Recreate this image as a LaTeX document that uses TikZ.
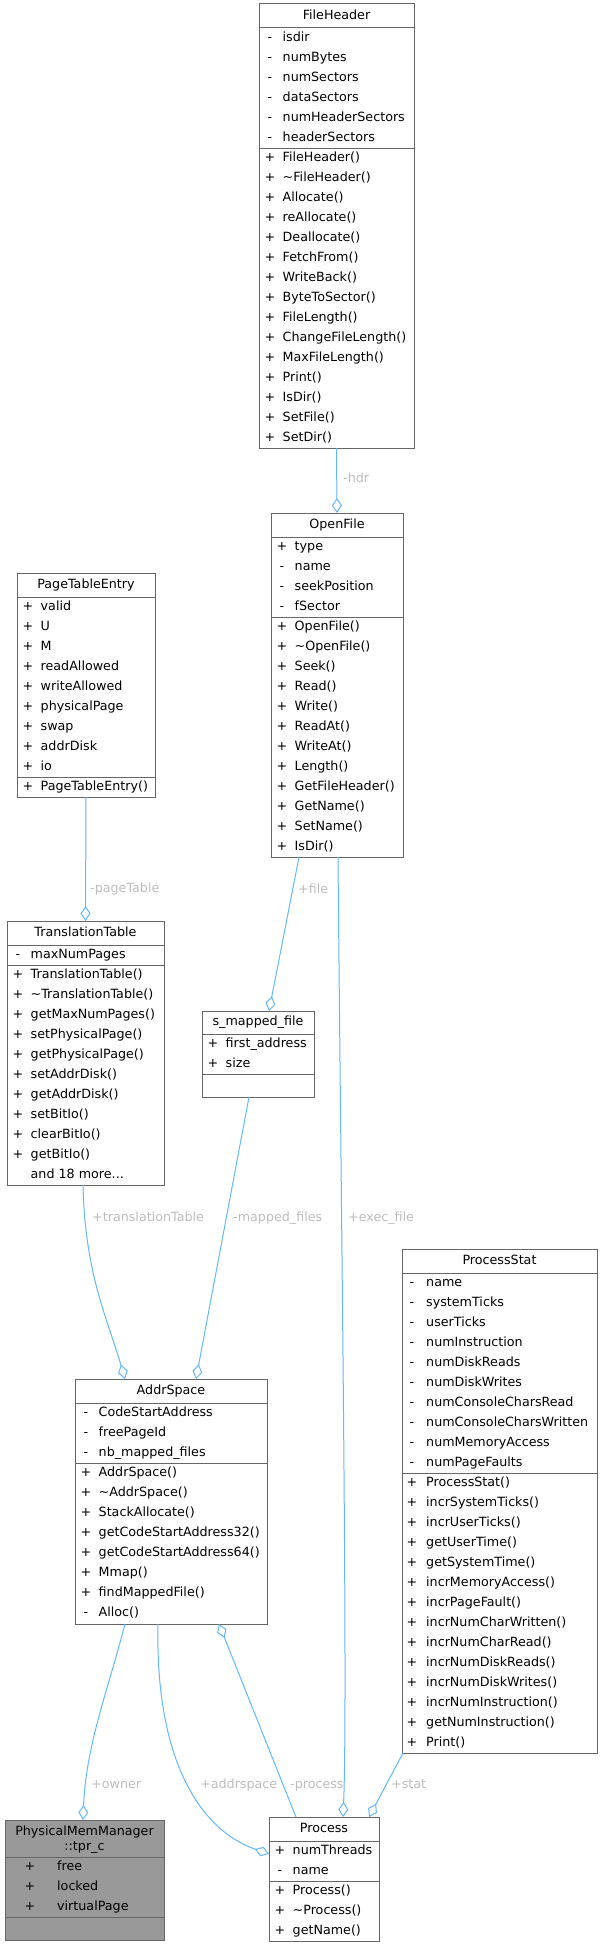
\documentclass[tikz,border=0pt]{standalone}
\usepackage{fontspec}
\setmainfont{DejaVu Sans}
\usetikzlibrary{arrows.meta}
\definecolor{edgec}{HTML}{63B8FF}
\definecolor{lblc}{HTML}{BEBEBE}
\definecolor{brdc}{HTML}{666666}
\definecolor{hlc}{HTML}{999999}
\newcommand\fsz{\fontsize{12.7}{15}\selectfont}
\newcommand\mydots{...}
\tikzset{
 box/.style={draw=brdc, line width=1pt, fill=white, anchor=north west, inner sep=0pt, outer sep=0pt},
 hlbox/.style={box, fill=hlc},
 sepl/.style={draw=brdc, line width=1pt},
 txt/.style={inner sep=0pt, font=\fsz, text height=9.3pt, text depth=3pt},
 vis/.style={txt, anchor=center},
 mem/.style={txt, anchor=west},
 ttl/.style={txt, anchor=center},
 conn/.style={draw=edgec, line width=1pt},
 agg/.style={conn, -{Diamond[open, length=15pt, width=10pt, line width=1pt]}},
 elab/.style={txt, text=lblc, anchor=west},
}
% #1 prefix, #2 left x, #3 first row centre y, #4 list sym/name, #5 sym offset, #6 name offset
\newcommand\mrows[6]{%
 \foreach [count=\ii] \vv/\nm in {#4} {
   \node[vis] (#1-v\ii) at (#2+#5, #3+20*\ii-20) {\vv};
   \node[mem] (#1-n\ii) at (#2+#6, #3+20*\ii-20) {\nm};
 }}
\begin{document}
\begin{tikzpicture}[x=1pt, y=-1pt]
\fill[white] (0,0) rectangle (602,1948);
\useasboundingbox (0,0) rectangle (602,1948);

% FileHeader
\node[box, minimum width=155pt, minimum height=444pt] (FH) at (259,4) {};
\node[ttl] (FH-t) at (336.5,16) {FileHeader};
\draw[sepl] (259,28) -- (414,28) (259,148) -- (414,148);
\mrows{FHa}{259}{38}{-/isdir,-/numBytes,-/numSectors,-/dataSectors,-/numHeaderSectors,-/headerSectors}{11}{23.5}
\mrows{FHm}{259}{158}{+/FileHeader(),+/\textasciitilde FileHeader(),+/Allocate(),+/reAllocate(),+/Deallocate(),+/FetchFrom(),+/WriteBack(),+/ByteToSector(),+/FileLength(),+/ChangeFileLength(),+/MaxFileLength(),+/Print(),+/IsDir(),+/SetFile(),+/SetDir()}{11}{23.5}

% OpenFile
\node[box, minimum width=132pt, minimum height=344pt] (OF) at (271,513) {};
\node[ttl] (OF-t) at (337,525) {OpenFile};
\draw[sepl] (271,537) -- (403,537) (271,617) -- (403,617);
\mrows{OFa}{271}{547}{+/type,-/name,-/seekPosition,-/fSector}{11}{23.5}
\mrows{OFm}{271}{627}{+/OpenFile(),+/\textasciitilde OpenFile(),+/Seek(),+/Read(),+/Write(),+/ReadAt(),+/WriteAt(),+/Length(),+/GetFileHeader(),+/GetName(),+/SetName(),+/IsDir()}{11}{23.5}

% PageTableEntry
\node[box, minimum width=138pt, minimum height=224pt] (PTE) at (17,573) {};
\node[ttl] (PTE-t) at (86,585) {PageTableEntry};
\draw[sepl] (17,597) -- (155,597) (17,777) -- (155,777);
\mrows{PTEa}{17}{607}{+/valid,+/U,+/M,+/readAllowed,+/writeAllowed,+/physicalPage,+/swap,+/addrDisk,+/io}{11}{23.5}
\mrows{PTEm}{17}{787}{+/PageTableEntry()}{11}{23.5}

% TranslationTable
\node[box, minimum width=157pt, minimum height=264pt] (TT) at (7,921) {};
\node[ttl] (TT-t) at (85.5,933) {TranslationTable};
\draw[sepl] (7,945) -- (164,945) (7,965) -- (164,965);
\mrows{TTa}{7}{955}{-/maxNumPages}{11}{23.5}
\mrows{TTm}{7}{975}{+/TranslationTable(),+/\textasciitilde TranslationTable(),+/getMaxNumPages(),+/setPhysicalPage(),+/getPhysicalPage(),+/setAddrDisk(),+/getAddrDisk(),+/setBitIo(),+/clearBitIo(),+/getBitIo(),/and 18 more\mydots}{11}{23.5}

% s_mapped_file
\node[box, minimum width=112pt, minimum height=86pt] (SMF) at (202,1011) {};
\node[ttl] (SMF-t) at (258,1022.5) {s\_mapped\_file};
\draw[sepl] (202,1034) -- (314,1034) (202,1074) -- (314,1074);
\mrows{SMFa}{202}{1044}{+/first\_address,+/size}{11}{23.5}

% AddrSpace
\node[box, minimum width=192pt, minimum height=245pt] (AS) at (75,1379) {};
\node[ttl] (AS-t) at (171,1391) {AddrSpace};
\draw[sepl] (75,1403) -- (267,1403) (75,1463) -- (267,1463);
\mrows{ASa}{75}{1413}{-/CodeStartAddress,-/freePageId,-/nb\_mapped\_files}{11}{23.5}
\mrows{ASm}{75}{1473}{+/AddrSpace(),+/\textasciitilde AddrSpace(),+/StackAllocate(),+/getCodeStartAddress32(),+/getCodeStartAddress64(),+/Mmap(),+/findMappedFile(),-/Alloc()}{11}{23.5}

% ProcessStat
\node[box, minimum width=195pt, minimum height=504pt] (PS) at (402,1249) {};
\node[ttl] (PS-t) at (499.5,1261) {ProcessStat};
\draw[sepl] (402,1273) -- (597,1273) (402,1473) -- (597,1473);
\mrows{PSa}{402}{1283}{-/name,-/systemTicks,-/userTicks,-/numInstruction,-/numDiskReads,-/numDiskWrites,-/numConsoleCharsRead,-/numConsoleCharsWritten,-/numMemoryAccess,-/numPageFaults}{10}{24}
\mrows{PSm}{402}{1483}{+/ProcessStat(),+/incrSystemTicks(),+/incrUserTicks(),+/getUserTime(),+/getSystemTime(),+/incrMemoryAccess(),+/incrPageFault(),+/incrNumCharWritten(),+/incrNumCharRead(),+/incrNumDiskReads(),+/incrNumDiskWrites(),+/incrNumInstruction(),+/getNumInstruction(),+/Print()}{10}{24}

% Process
\node[box, minimum width=110pt, minimum height=124pt] (P) at (269,1817) {};
\node[ttl] (P-t) at (324,1829) {Process};
\draw[sepl] (269,1841) -- (379,1841) (269,1881) -- (379,1881);
\mrows{Pa}{269}{1851}{+/numThreads,-/name}{11}{23.5}
\mrows{Pm}{269}{1891}{+/Process(),+/\textasciitilde Process(),+/getName()}{11}{23.5}

% PhysicalMemManager::tpr_c
\node[hlbox, minimum width=159pt, minimum height=120pt] (T) at (5,1820) {};
\node[inner sep=0pt, font=\fsz, align=center] (T-t) at (84.5,1839.5) {PhysicalMemManager\\::tpr\_c};
\draw[sepl] (5,1857) -- (164,1857) (5,1917) -- (164,1917);
\mrows{Ta}{5}{1867}{+/free,+/locked,+/virtualPage}{25}{52}

% connectors
\draw[agg] (FH.south) -- (OF.north);
\node[elab] (l-hdr) at (343,479) {-hdr};
\draw[agg] (PTE.south) -- (TT.north);
\node[elab] (l-pt) at (90,889) {-pageTable};
\draw[agg] ([xshift=28pt]OF.south west) -- ([xshift=67pt]SMF.north west);
\node[elab] (l-file) at (298,890) {+file};
\draw[agg] ([xshift=67pt]OF.south west) .. controls (341,1200) and (348,1700) .. ([xshift=74pt]P.north west);
\node[elab] (l-exec) at (348,1218) {+exec\_file};
\draw[agg] ([xshift=76pt]TT.south west) .. controls (85,1275) and (108,1320) .. ([xshift=50pt]AS.north west);
\node[elab] (l-tt) at (92,1218) {+translationTable};
\draw[agg] ([xshift=47pt]SMF.south west) -- ([xshift=121pt]AS.north west);
\node[elab] (l-mf) at (233,1218) {-mapped\_files};
\draw[agg] ([xshift=50pt]AS.south west) .. controls (108,1690) and (86,1745) .. ([xshift=78pt]T.north west);
\node[elab] (l-owner) at (91,1785) {+owner};
\draw[agg] ([xshift=83pt]AS.south west) .. controls (155,1760) and (200,1830) .. ([yshift=-37pt]P.north west);
\node[elab] (l-as) at (200,1785) {+addrspace};
\draw[agg] ([xshift=27pt]P.north west) -- ([xshift=144pt]AS.south west);
\node[elab] (l-proc) at (290,1785) {-process};
\draw[agg] ([xshift=1pt]PS.south west) -- ([xshift=100pt]P.north west);
\node[elab] (l-stat) at (391,1785) {+stat};
\end{tikzpicture}
\end{document}
